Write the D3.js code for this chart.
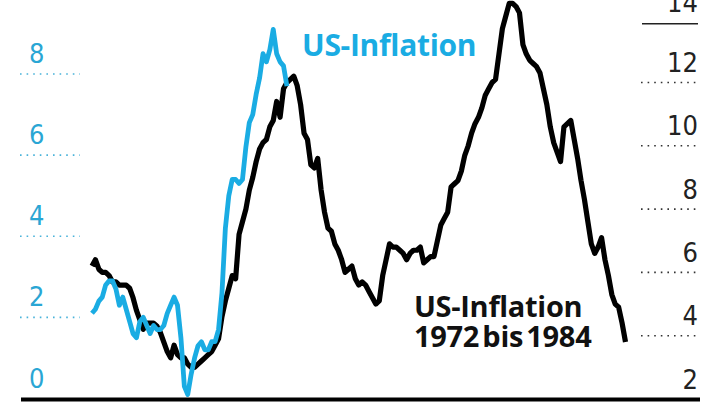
<!DOCTYPE html>
<html><head><meta charset="utf-8">
<script src="https://cdn.jsdelivr.net/npm/d3@7"></script>
<style>
html,body{margin:0;padding:0;background:#fff;}
svg{display:block;}
</style></head>
<body><svg id="c" width="720" height="405"></svg>
<script>
// US inflation 2018-01 .. 2022-10 (monthly, % yoy) – left axis
const blueValues = [
 2.1,2.2,2.4,2.5,2.8,2.9,2.9,2.7,2.3,2.5,2.2,1.9,
 1.6,1.5,1.9,2.0,1.8,1.6,1.8,1.7,1.7,1.8,2.1,2.3,
 2.5,2.3,1.5,0.3,0.1,0.6,1.0,1.3,1.4,1.2,1.2,1.4,
 1.4,1.7,2.6,4.2,5.0,5.4,5.4,5.3,5.4,6.2,6.8,7.0,
 7.5,7.9,8.5,8.3,8.6,9.1,8.5,8.3,8.2,7.7
];
// US inflation 1970-01 .. 1983-01 (monthly, % yoy) – right axis
const blackValues = [
 6.2,6.4,6.1,6.0,6.0,5.9,5.7,5.7,5.6,5.6,5.6,5.5,
 5.2,4.8,4.5,4.2,4.4,4.4,4.4,4.3,4.1,3.8,3.5,3.3,
 3.7,3.4,3.3,3.3,3.1,3.0,3.0,3.1,3.2,3.3,3.4,3.5,
 3.7,3.9,4.6,5.1,5.5,5.9,5.8,7.2,7.6,8.0,8.6,9.0,
 9.5,9.9,10.1,10.2,10.6,10.8,11.4,10.9,11.8,12.0,12.1,12.2,
 11.9,11.3,10.4,10.2,9.4,9.3,9.6,8.6,7.9,7.4,7.3,6.9,
 6.7,6.4,6.0,6.1,6.2,5.8,5.6,5.7,5.6,5.4,5.2,5.0,
 5.1,5.9,6.4,6.9,6.8,6.8,6.7,6.6,6.4,6.6,6.7,6.7,
 6.8,6.3,6.4,6.5,6.5,7.0,7.5,7.7,7.9,8.7,8.8,8.9,
 9.2,9.7,10.0,10.4,10.7,10.9,11.2,11.6,11.8,12.0,12.1,12.9,
 13.7,14.1,14.5,14.5,14.4,14.2,13.2,12.9,12.7,12.6,12.5,12.3,
 11.8,11.3,10.6,10.1,9.8,9.5,10.6,10.7,10.8,10.2,9.6,8.9,
 8.3,7.6,6.9,6.6,6.8,7.1,6.4,5.9,5.3,5.0,4.9,4.4,
 3.8
];
const leftTicks = [0,2,4,6,8];
const rightTicks = [2,4,6,8,10,12,14];
const blueLabel = "US-Inflation";
const blackLabel = ["US-Inflation","1972 bis 1984"];

const svg = d3.select("#c");
const BLUE = "#1aace3", BLUE_TXT = "#2aa6d4";

const x = d3.scaleLinear().domain([0,156]).range([92,625.5]);
const yL = d3.scaleLinear().domain([0,8]).range([398.5,74]);
const yR = d3.scaleLinear().domain([2,12]).range([399,82.5]);

const numFont = "'Liberation Sans Narrow','DejaVu Sans Condensed',sans-serif";
const titleFont = "'Open Sans',sans-serif";

// left grid + labels
const gL = svg.append("g");
gL.selectAll("line").data(leftTicks.filter(d=>d>0)).join("line")
  .attr("x1",20).attr("x2",80).attr("y1",d=>yL(d)).attr("y2",d=>yL(d))
  .attr("stroke",BLUE_TXT).attr("stroke-width",1.6).attr("stroke-dasharray","1.6,5").attr("opacity",0.85);
gL.selectAll("text").data(leftTicks).join("text")
  .attr("x",29).attr("y",d=>yL(d)-11)
  .attr("font-family",numFont).attr("font-size",27).attr("fill",BLUE_TXT)
  .text(d=>d);

// right grid + labels
const gR = svg.append("g");
gR.selectAll("line").data(rightTicks.filter(d=>d>2 && d<14)).join("line")
  .attr("x1",641).attr("x2",699).attr("y1",d=>yR(d)).attr("y2",d=>yR(d))
  .attr("stroke","#333").attr("stroke-width",1.6).attr("stroke-dasharray","1.6,5");
gR.append("line").attr("x1",642).attr("x2",698).attr("y1",yR(14)+4.5).attr("y2",yR(14)+4.5)
  .attr("stroke","#222").attr("stroke-width",1.5);
gR.selectAll("text").data(rightTicks).join("text")
  .attr("x",698).attr("y",d=>d===14? yR(d)-7.5 : yR(d)-10.5).attr("text-anchor","end")
  .attr("font-family",numFont).attr("font-size",27).attr("fill","#222")
  .text(d=>d);

// lines
const lineB = d3.line().x((d,i)=>x(i)).y(d=>yR(d));
const lineL = d3.line().x((d,i)=>x(i)).y(d=>yL(d));
svg.append("path").datum(blackValues).attr("d",lineB)
  .attr("fill","none").attr("stroke","#000").attr("stroke-width",5.2)
  .attr("stroke-linejoin","round").attr("stroke-linecap","butt");
svg.append("path").datum(blueValues).attr("d",lineL)
  .attr("fill","none").attr("stroke",BLUE).attr("stroke-width",4.8)
  .attr("stroke-linejoin","round").attr("stroke-linecap","butt");

// baseline
svg.append("line").attr("x1",21).attr("x2",700).attr("y1",399.5).attr("y2",399.5)
  .attr("stroke","#000").attr("stroke-width",4);

// labels
svg.append("text").attr("x",302).attr("y",56).attr("font-family",titleFont)
  .attr("font-weight",700).attr("font-size",30).attr("fill",BLUE).attr("letter-spacing",-0.3)
  .text(blueLabel);
const t = svg.append("text").attr("font-family",titleFont).attr("font-weight",700)
  .attr("font-size",29).attr("fill","#111").attr("letter-spacing",-0.3);
t.selectAll("tspan").data(blackLabel).join("tspan")
  .attr("x",414).attr("y",(d,i)=>317+i*30).attr("word-spacing",(d,i)=>i?-4:0).text(d=>d);
</script></body></html>
